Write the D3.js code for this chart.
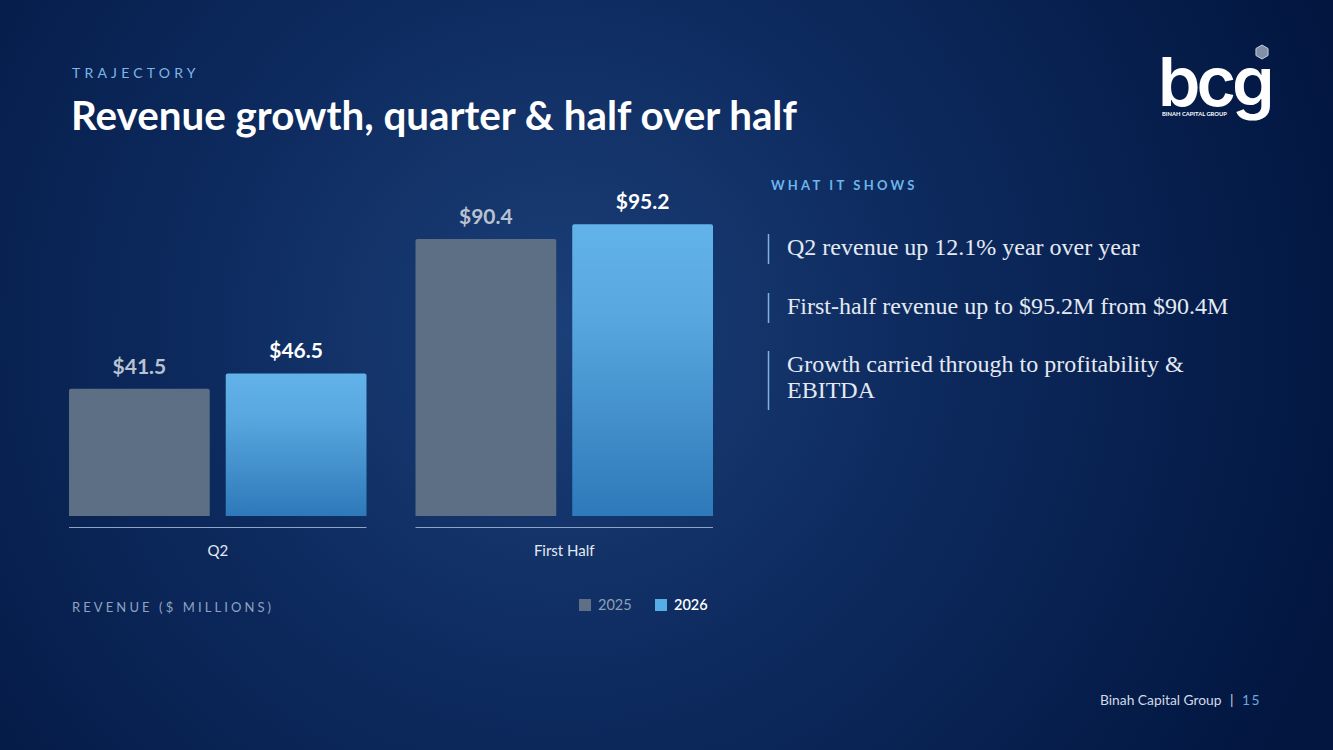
<!DOCTYPE html>
<html><head><meta charset="utf-8">
<script src="https://cdn.jsdelivr.net/npm/d3@7"></script>
<style>html,body{margin:0;padding:0;background:#031a44;overflow:hidden}</style>
</head><body>
<svg id="c" width="1333" height="750"></svg>
<script>
const categories = ["Q2", "First Half"];
const seriesNames = ["2025", "2026"];
const values2025 = [41.5, 90.4];
const values2026 = [46.5, 95.2];
const bullets = [
  ["Q2 revenue up 12.1% year over year"],
  ["First-half revenue up to $95.2M from $90.4M"],
  ["Growth carried through to profitability &", "EBITDA"]
];

const svg = d3.select("#c");
const defs = svg.append("defs");
const bg = defs.append("radialGradient").attr("id","bg")
  .attr("gradientUnits","userSpaceOnUse").attr("cx",560).attr("cy",330).attr("r",820);
bg.append("stop").attr("offset","0%").attr("stop-color","#1b3f78");
bg.append("stop").attr("offset","45%").attr("stop-color","#0d2a5e");
bg.append("stop").attr("offset","100%").attr("stop-color","#021640");
const g26 = defs.append("linearGradient").attr("id","g26").attr("x1",0).attr("y1",0).attr("x2",0).attr("y2",1);
g26.append("stop").attr("offset","0%").attr("stop-color","#62b3e9");
g26.append("stop").attr("offset","30%").attr("stop-color","#59a8e0");
g26.append("stop").attr("offset","100%").attr("stop-color","#2e79b9");

svg.append("rect").attr("width",1333).attr("height",750).attr("fill","url(#bg)");

// Header
svg.append("text").attr("x",72).attr("y",78).text("TRAJECTORY")
  .attr("font-family","Lato, 'Open Sans', sans-serif").attr("font-size",14)
  .attr("letter-spacing",4.2).attr("fill","#7db7e8");
const title = svg.append("text").attr("x",71).attr("y",130).text("Revenue growth, quarter & half over half")
  .attr("font-family","Lato, 'Open Sans', sans-serif").attr("font-weight",700).attr("font-size",38)
  .attr("fill","#ffffff");
{ const w = title.node().getComputedTextLength(); title.attr("font-size", 38*726/w); }

// Chart
const baseY = 516;
const y = d3.scaleLinear().domain([0,100]).range([baseY, baseY-306.5]);
const x0 = d3.scaleBand().domain(categories).range([69,713]).paddingInner(0.1414).paddingOuter(0);
const x1 = d3.scaleBand().domain(seriesNames).range([0,x0.bandwidth()]).paddingInner(0.102);
const data = categories.map((c,i)=>({cat:c, vals:[{s:"2025",v:values2025[i]},{s:"2026",v:values2026[i]}]}));

const groups = svg.selectAll("g.cat").data(data).join("g").attr("class","cat")
  .attr("transform",d=>`translate(${x0(d.cat)},0)`);
function topRounded(x,yT,w,h,r){
  return `M${x},${yT+h}V${yT+r}Q${x},${yT} ${x+r},${yT}H${x+w-r}Q${x+w},${yT} ${x+w},${yT+r}V${yT+h}Z`;
}
groups.selectAll("path.bar").data(d=>d.vals).join("path").attr("class","bar")
  .attr("d",d=>topRounded(x1(d.s), y(d.v), x1.bandwidth(), baseY-y(d.v), 2))
  .attr("fill",d=>d.s==="2025"?"#5c6f84":"url(#g26)");
groups.selectAll("text.lab").data(d=>d.vals).join("text").attr("class","lab")
  .attr("x",d=>x1(d.s)+x1.bandwidth()/2).attr("y",d=>y(d.v)-15)
  .attr("text-anchor","middle").attr("font-family","Lato, 'Open Sans', sans-serif")
  .attr("font-weight",700).attr("font-size",21)
  .attr("fill",d=>d.s==="2025"?"#b9c3cf":"#ffffff")
  .text(d=>"$"+d.v.toFixed(1));
// axis lines per group
groups.append("line").attr("x1",0).attr("x2",x0.bandwidth()).attr("y1",527.5).attr("y2",527.5)
  .attr("stroke","#8ea4c4").attr("stroke-width",1);
groups.append("text").attr("x",x0.bandwidth()/2).attr("y",556).attr("text-anchor","middle")
  .attr("font-family","Lato, 'Open Sans', sans-serif").attr("font-size",15).attr("fill","#e3e9f2")
  .text(d=>d.cat);

svg.append("text").attr("x",72).attr("y",612).text("REVENUE ($ MILLIONS)")
  .attr("font-family","Lato, 'Open Sans', sans-serif").attr("font-size",13)
  .attr("letter-spacing",3.1).attr("fill","#8ea3c2");

// Legend
const legX = [579, 655];
const leg = svg.selectAll("g.leg").data(seriesNames).join("g").attr("class","leg")
  .attr("transform",(d,i)=>`translate(${legX[i]},599)`);
leg.append("rect").attr("width",12).attr("height",12)
  .attr("fill",(d,i)=>i===0?"#5f7086":"#55aee6");
leg.append("text").attr("x",19).attr("y",11).text(d=>d)
  .attr("font-family","Lato, 'Open Sans', sans-serif").attr("font-size",14.5)
  .attr("font-weight",(d,i)=>i===0?400:600)
  .attr("fill",(d,i)=>i===0?"#8fa0b6":"#ffffff");

// Right panel
svg.append("text").attr("x",771).attr("y",190).text("WHAT IT SHOWS")
  .attr("font-family","Lato, 'Open Sans', sans-serif").attr("font-weight",700).attr("font-size",13)
  .attr("letter-spacing",3.2).attr("fill","#6db5ec");
const bTop = [234, 293, 351];
const bl = svg.selectAll("g.bl").data(bullets).join("g").attr("class","bl")
  .attr("transform",(d,i)=>`translate(0,${bTop[i]})`);
bl.append("line").attr("x1",768.5).attr("x2",768.5).attr("y1",0).attr("y2",d=>d.length*29+1)
  .attr("stroke","#7fb3e3").attr("stroke-width",1.5);
bl.each(function(d){
  const t = d3.select(this).append("text").attr("x",787).attr("y",21)
    .attr("font-family","'Liberation Serif', 'DejaVu Serif', serif").attr("font-size",24)
    .attr("fill","#e4eaf3");
  d.forEach((line,k)=>t.append("tspan").attr("x",787).attr("dy",k===0?0:26).text(line));
});

// Footer
const foot = svg.append("text").attr("x",1100).attr("y",705)
  .attr("font-family","Lato, 'Open Sans', sans-serif").attr("font-size",13.8).attr("fill","#d3dbe6");
foot.append("tspan").text("Binah Capital Group");
foot.append("tspan").attr("x",1230).text("|");
foot.append("tspan").attr("x",1242).attr("fill","#6aa8de").attr("letter-spacing",1.5).text("15");

// Logo (one text element: wordmark + tagline)
const logo = svg.append("g");
const logoText = logo.append("text").attr("fill","#ffffff");
logoText.append("tspan").attr("x",1158).attr("y",106).text("bcg")
  .attr("font-family","Inter, Lato, sans-serif").attr("font-weight",600).attr("font-size",68)
  .attr("letter-spacing",-4);
logoText.append("tspan").attr("x",1162).attr("y",116).text("BINAH CAPITAL GROUP")
  .attr("font-family","Lato, sans-serif").attr("font-weight",700).attr("font-size",5.8)
  .attr("letter-spacing",0);
const hex = d3.range(6).map(i=>{const a=Math.PI/3*i+Math.PI/6;return [1262+7*Math.cos(a),52+7*Math.sin(a)];});
logo.append("path").attr("d","M"+hex.map(p=>p.join(",")).join("L")+"Z")
  .attr("fill","#8190a8").attr("stroke","#c5cedb").attr("stroke-width",1);
</script>
</body></html>
